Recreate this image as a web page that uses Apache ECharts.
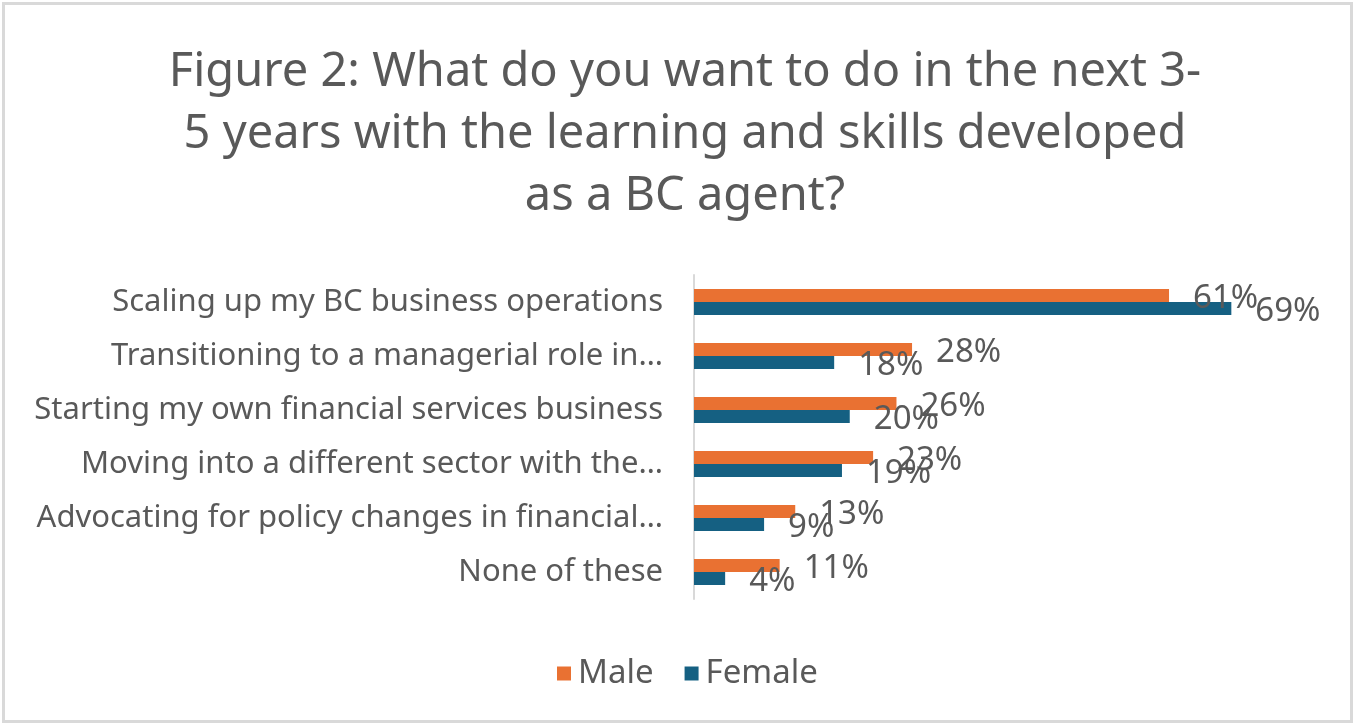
<!DOCTYPE html>
<html>
<head>
<meta charset="utf-8">
<script src="https://cdn.jsdelivr.net/npm/echarts@6/dist/echarts.min.js"></script>
<style>
  html, body { margin: 0; padding: 0; background: #ffffff; }
  #chart { width: 1355px; height: 725px; }
</style>
</head>
<body>
<div id="chart"></div>
<script>
// Survey answers, top to bottom
const categories = [
  'Scaling up my BC business operations',
  'Transitioning to a managerial role in…',
  'Starting my own financial services business',
  'Moving into a different sector with the…',
  'Advocating for policy changes in financial…',
  'None of these'
];
// Share of respondents (fractions)
const maleValues = [0.61, 0.28, 0.26, 0.23, 0.13, 0.11];
const femaleValues = [0.69, 0.18, 0.20, 0.19, 0.09, 0.04];
const seriesNames = ['Male', 'Female'];

const textColor = '#595959';
const fontFamily = '"Noto Sans", "Open Sans", sans-serif';

const chart = echarts.init(document.getElementById('chart'));

const pctLabel = {
  show: true,
  position: 'right',
  distance: 24,
  offset: [0, 3],
  color: textColor,
  fontSize: 33,
  fontFamily: fontFamily,
  formatter: p => Math.round(p.value * 100) + '%'
};

chart.setOption({
  backgroundColor: '#ffffff',
  animation: false,
  title: {
    text: 'Figure 2: What do you want to do in the next 3-\n5 years with the learning and skills developed\nas a BC agent?',
    left: 680,
    top: 37,
    textAlign: 'center',
    textStyle: {
      color: textColor,
      fontSize: 47,
      lineHeight: 62,
      fontWeight: 'normal',
      fontFamily: fontFamily
    }
  },
  legend: {
    data: seriesNames,
    top: 652,
    left: 552,
    itemWidth: 14,
    itemHeight: 14,
    itemGap: 31,
    icon: 'rect',
    textStyle: { color: textColor, fontSize: 33, fontFamily: fontFamily, padding: [0, 0, 0, 2] }
  },
  grid: { left: 694, right: 38, top: 275, bottom: 126, containLabel: false },
  xAxis: {
    type: 'value',
    min: 0,
    max: 0.8,
    show: false,
    splitLine: { show: false }
  },
  yAxis: {
    type: 'category',
    data: categories,
    inverse: true,
    axisLine: { show: true, lineStyle: { color: '#d9d9d9', width: 2 } },
    axisTick: { show: false },
    axisLabel: {
      color: textColor,
      fontSize: 31,
      fontFamily: fontFamily,
      margin: 31
    }
  },
  series: [
    {
      name: seriesNames[0],
      type: 'bar',
      data: maleValues,
      barWidth: 13,
      barGap: '0%',
      itemStyle: { color: '#E97132' },
      label: pctLabel
    },
    {
      name: seriesNames[1],
      type: 'bar',
      data: femaleValues,
      barWidth: 13,
      barGap: '0%',
      itemStyle: { color: '#156082' },
      label: pctLabel
    }
  ],
  graphic: [{
    type: 'rect',
    shape: { x: 3.5, y: 3.5, width: 1348, height: 718 },
    style: { fill: 'none', stroke: '#d9d9d9', lineWidth: 3 },
    silent: true
  }]
});
</script>
</body>
</html>
